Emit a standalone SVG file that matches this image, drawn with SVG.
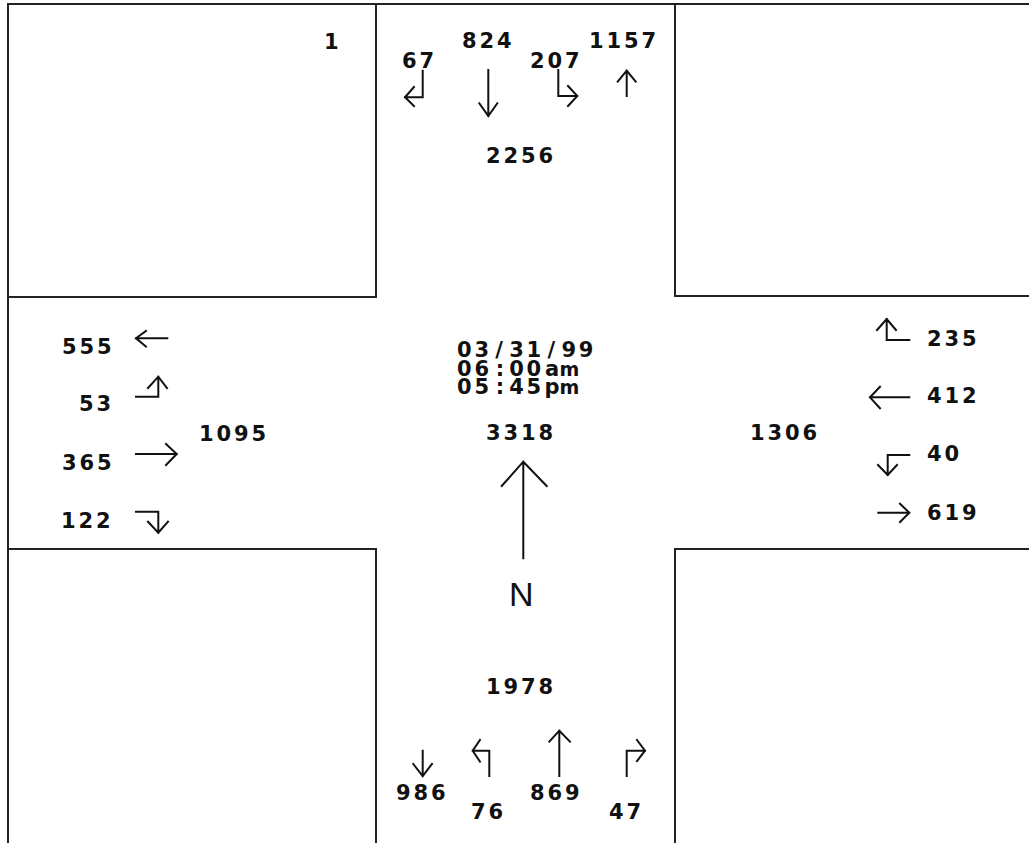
<svg xmlns="http://www.w3.org/2000/svg" width="1029" height="843" viewBox="0 0 1029 843">
<style>
.t{font-family:"DejaVu Sans","Liberation Sans",sans-serif;font-weight:bold;font-size:21px;letter-spacing:2.9px;fill:#111}
.c{font-family:"DejaVu Sans","Liberation Sans",sans-serif;font-weight:bold;font-size:21px;fill:#111}
.m{font-size:19px}
.a{fill:none;stroke:#111;stroke-width:2;stroke-linecap:square;stroke-linejoin:miter}
.r{fill:none;stroke:#222;stroke-width:2}
.n{font-family:"Liberation Sans",Arial,sans-serif;font-size:34px;fill:#111}
</style>
<rect width="1029" height="843" fill="#fff"/>
<g id="roads">
<path class="r" d="M8,843 V4 H1029"/>
<path class="r" d="M376,4 V297 H8"/>
<path class="r" d="M675,4 V296 H1029"/>
<path class="r" d="M8,549 H376 V843"/>
<path class="r" d="M1029,549 H675 V843"/>
</g>
<g id="site"><text class="t" x="324" y="49">1</text></g>
<g id="north-approach">
<text class="t" x="462" y="48">824</text>
<text class="t" x="402" y="68">67</text>
<text class="t" x="530" y="68">207</text>
<text class="t" x="589" y="48">1157</text>
<text class="t" x="486" y="163">2256</text>
</g>
<g id="west-approach">
<text class="t" x="62" y="354">555</text>
<text class="t" x="79" y="411">53</text>
<text class="t" x="199" y="441">1095</text>
<text class="t" x="62" y="470">365</text>
<text class="t" x="61" y="528">122</text>
</g>
<g id="east-approach">
<text class="t" x="927" y="346">235</text>
<text class="t" x="927" y="403">412</text>
<text class="t" x="750" y="440">1306</text>
<text class="t" x="927" y="461">40</text>
<text class="t" x="927" y="520">619</text>
</g>
<g id="center">
<text class="c"><tspan x="457 474.4 495.3 509.2 526.6 547.5 561.4 578.8" y="356.5">03/31/99</tspan><tspan x="457 474.4 495.8 509.2 526.6 545" y="375.5">06:00a</tspan><tspan class="m" x="559.5" y="375.5">m</tspan><tspan x="457 474.4 495.8 509.2 526.6 544.5" y="393.5">05:45p</tspan><tspan class="m" x="559.5" y="393.5">m</tspan></text>
<text class="t" x="486" y="440">3318</text>
<text class="n" x="509" y="606">N</text>
</g>
<g id="south-approach">
<text class="t" x="486" y="694">1978</text>
<text class="t" x="396" y="800">986</text>
<text class="t" x="530" y="800">869</text>
<text class="t" x="471" y="819">76</text>
<text class="t" x="609" y="819">47</text>
</g>
<g id="connectors">
<path class="a" d="M422.7,70.7 V97.3 H405 M414,87 L405,97.3 L414,106"/>
<path class="a" d="M488.3,70 V116 M479.3,103.3 L488.3,116 L497.3,103.3"/>
<path class="a" d="M558.3,70 V96 H577.3 M568,86 L577.3,96 L568,106"/>
<path class="a" d="M626.7,96 V70.7 M617.7,81.7 L626.7,70.7 L635.7,81.7"/>
<path class="a" d="M167.3,338.3 H136 M146,331 L136,338.3 L146,346.7"/>
<path class="a" d="M136,396.7 H158.3 V376.7 M148,388 L158.3,376.7 L167,388"/>
<path class="a" d="M136,454 H176.7 M166,444 L176.7,454 L166,465"/>
<path class="a" d="M136,511.7 H158.3 V532.7 M148,521.7 L158.3,532.7 L168,521.7"/>
<path class="a" d="M909.3,340 H886.7 V319 M877,330 L886.7,319 L896,330"/>
<path class="a" d="M909.3,397.3 H870 M880,386.7 L870,397.3 L880,408.3"/>
<path class="a" d="M909.3,455 H887.7 V475 M878,465 L887.7,475 L897,465"/>
<path class="a" d="M878.3,512.7 H909.3 M900,503.7 L909.3,512.7 L900,522"/>
<path class="a" d="M422.7,750.7 V776 M413.3,764 L422.7,776 L432,764"/>
<path class="a" d="M489.3,776 V750.7 H472.7 M480,740 L472.7,750.7 L480,761.7"/>
<path class="a" d="M559.3,776 V730.7 M549.3,741.7 L559.3,730.7 L570,741.7"/>
<path class="a" d="M626.7,776 V750.7 H645 M637,740 L645,750.7 L637,761"/>
<path class="a" d="M523.3,461.7 V558.3 M501.7,486 L523.3,461.7 L546.7,486"/>
</g>
</svg>
